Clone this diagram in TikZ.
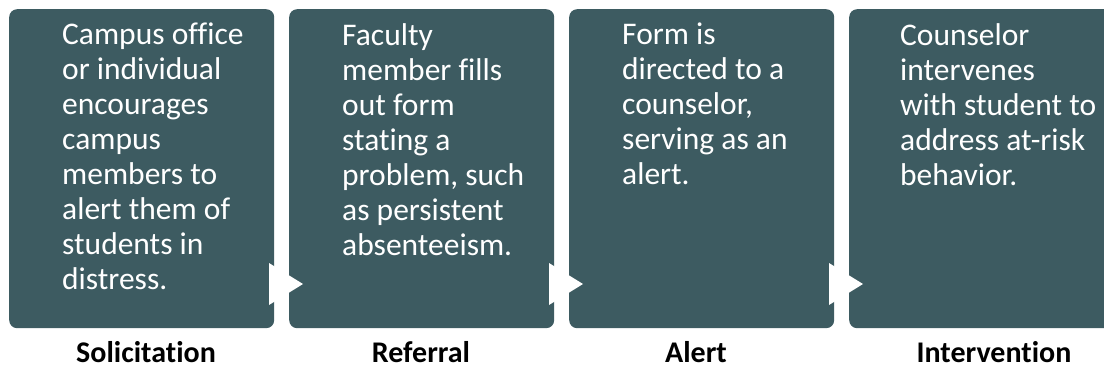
\documentclass[tikz,border=0pt]{standalone}
\usepackage{fontspec}
\setmainfont{Carlito}[Ligatures={NoCommon}]
\definecolor{boxc}{HTML}{3D5B61}
\begin{document}
\begin{tikzpicture}[x=1pt,y=-1pt,
  stagebox/.style={fill=boxc, rounded corners=8pt, minimum width=265pt, minimum height=319pt, anchor=north west, inner sep=0pt},
  body/.style={text=white, font=\fontsize{31.5}{35}\selectfont, align=left, inner sep=0pt, anchor=north west},
  lab/.style={font=\fontsize{30}{34}\selectfont\bfseries, anchor=base, inner sep=0pt},
  tri/.style={fill=white}]
\useasboundingbox (0,0) rectangle (1104,368);
\node[stagebox] (b1) at (9,9) {};
\node[stagebox] (b2) at (289,9) {};
\node[stagebox] (b3) at (569,9) {};
\node[stagebox] (b4) at (849,9) {};
\fill[tri] (269,263) -- (269,305) -- (303,284) -- cycle;
\fill[tri] (549,263) -- (549,305) -- (583,284) -- cycle;
\fill[tri] (829,263) -- (829,305) -- (863,284) -- cycle;
\node[body] (t1) at (62,23) {Campus office\\or individual\\encourages\\campus\\members to\\alert them of\\students in\\distress.};
\node[body] (t2) at (342,23) {Faculty\\member fills\\out form\\stating a\\problem, such\\as persistent\\absenteeism.};
\node[body] (t3) at (622,23) {Form is\\directed to a\\counselor,\\serving as an\\alert.};
\node[body] (t4) at (900,23) {Counselor\\intervenes\\with student to\\address at-risk\\behavior.};
\node[lab] (l1) at (146,362) {Solicitation};
\node[lab] (l2) at (421,362) {Referral};
\node[lab] (l3) at (696,362) {Alert};
\node[lab] (l4) at (994,362) {Intervention};
\end{tikzpicture}
\end{document}
